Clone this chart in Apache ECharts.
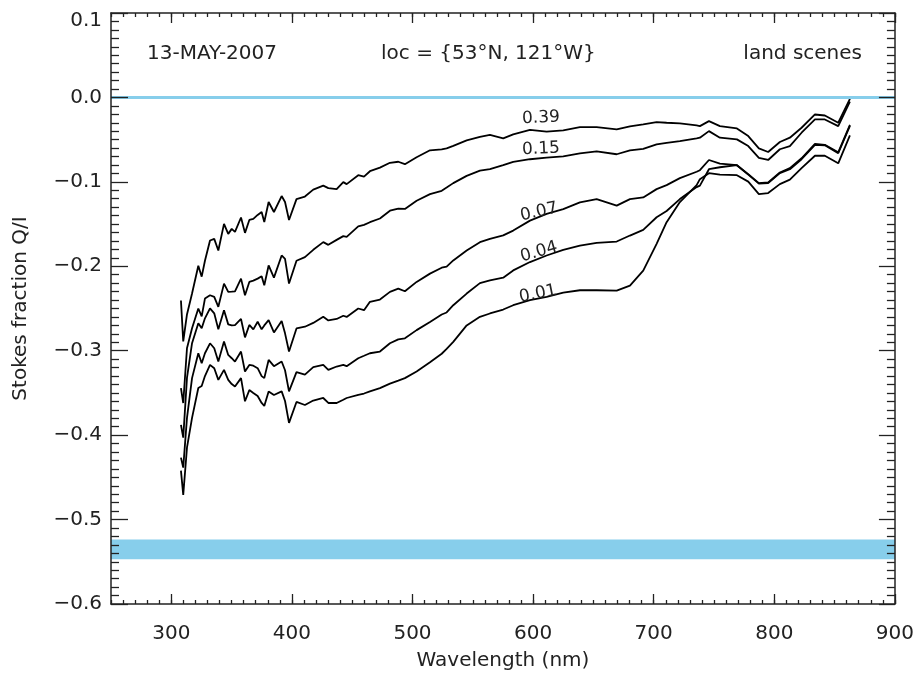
<!DOCTYPE html>
<html>
<head>
<meta charset="utf-8">
<script src="https://cdn.jsdelivr.net/npm/echarts@6/dist/echarts.min.js"></script>
<style>html,body{margin:0;padding:0;background:#fff;}#c{width:917px;height:676px;}</style>
</head>
<body>
<div id="c"></div>
<script>
// Wavelength grid (nm)
const wavelength = [308.0,309.9,313.0,317.2,322.4,325.2,327.9,332.1,335.6,339.0,343.7,347.2,350.1,352.8,357.8,361.1,364.7,368.0,371.6,374.9,377.1,380.7,385.1,391.5,394.3,397.6,403.8,410.8,417.7,426.0,430.2,437.1,442.6,445.4,455.0,459.8,464.7,473.0,481.3,488.2,493.7,503.4,514.5,524.2,528.3,533.8,544.9,555.9,564.2,575.2,583.5,597.4,611.2,625.0,638.8,652.7,669.3,680.3,691.3,702.4,710.7,721.7,735.6,738.3,745.8,754.9,769.0,778.4,787.2,794.9,804.6,812.9,822.6,833.7,841.9,853.0,862.7];

// Stokes fraction Q/I for each surface albedo
const q039 = [-0.2406,-0.2889,-0.2571,-0.2323,-0.1993,-0.2123,-0.1935,-0.1695,-0.1675,-0.1813,-0.1498,-0.1616,-0.1557,-0.1592,-0.1422,-0.1604,-0.1451,-0.1439,-0.1392,-0.1357,-0.1475,-0.1239,-0.1357,-0.1168,-0.1239,-0.1451,-0.1204,-0.1174,-0.1092,-0.1045,-0.1074,-0.1086,-0.1003,-0.1027,-0.0921,-0.0938,-0.0874,-0.0832,-0.0774,-0.0762,-0.0791,-0.0709,-0.0626,-0.0615,-0.0603,-0.0573,-0.0508,-0.0467,-0.0444,-0.0485,-0.0438,-0.0385,-0.0406,-0.0391,-0.0352,-0.0352,-0.0379,-0.0343,-0.0320,-0.0293,-0.0300,-0.0308,-0.0332,-0.0340,-0.0281,-0.0340,-0.0367,-0.0458,-0.0603,-0.0646,-0.0528,-0.0477,-0.0359,-0.0202,-0.0214,-0.0300,-0.0017];
const q015 = [-0.3443,-0.3620,-0.2971,-0.2735,-0.2500,-0.2594,-0.2382,-0.2343,-0.2362,-0.2480,-0.2205,-0.2303,-0.2300,-0.2296,-0.2146,-0.2343,-0.2185,-0.2170,-0.2146,-0.2117,-0.2225,-0.1990,-0.2134,-0.1872,-0.1911,-0.2205,-0.1934,-0.1891,-0.1805,-0.1714,-0.1746,-0.1687,-0.1643,-0.1651,-0.1528,-0.1510,-0.1478,-0.1434,-0.1342,-0.1316,-0.1321,-0.1224,-0.1145,-0.1106,-0.1068,-0.1015,-0.0929,-0.0868,-0.0850,-0.0803,-0.0764,-0.0732,-0.0712,-0.0697,-0.0662,-0.0638,-0.0673,-0.0626,-0.0609,-0.0556,-0.0538,-0.0517,-0.0485,-0.0477,-0.0399,-0.0477,-0.0497,-0.0576,-0.0715,-0.0741,-0.0614,-0.0576,-0.0418,-0.0261,-0.0261,-0.0340,-0.0049];
const q007 = [-0.3879,-0.4030,-0.3323,-0.2911,-0.2675,-0.2734,-0.2616,-0.2498,-0.2557,-0.2747,-0.2520,-0.2688,-0.2700,-0.2697,-0.2624,-0.2842,-0.2695,-0.2747,-0.2657,-0.2747,-0.2700,-0.2638,-0.2783,-0.2647,-0.2794,-0.3010,-0.2736,-0.2716,-0.2671,-0.2598,-0.2641,-0.2624,-0.2586,-0.2600,-0.2500,-0.2520,-0.2421,-0.2394,-0.2303,-0.2264,-0.2296,-0.2185,-0.2087,-0.2017,-0.2005,-0.1931,-0.1813,-0.1714,-0.1675,-0.1634,-0.1577,-0.1459,-0.1380,-0.1322,-0.1243,-0.1204,-0.1282,-0.1204,-0.1184,-0.1086,-0.1039,-0.0956,-0.0880,-0.0862,-0.0741,-0.0785,-0.0803,-0.0909,-0.1015,-0.1007,-0.0889,-0.0838,-0.0721,-0.0550,-0.0561,-0.0650,-0.0326];
const q004 = [-0.4266,-0.4385,-0.3796,-0.3325,-0.3030,-0.3148,-0.3030,-0.2912,-0.2971,-0.3128,-0.2892,-0.3050,-0.3089,-0.3128,-0.3010,-0.3246,-0.3168,-0.3178,-0.3207,-0.3301,-0.3325,-0.3109,-0.3183,-0.3128,-0.3231,-0.3482,-0.3254,-0.3283,-0.3195,-0.3168,-0.3227,-0.3187,-0.3168,-0.3183,-0.3089,-0.3060,-0.3030,-0.3010,-0.2912,-0.2865,-0.2853,-0.2756,-0.2659,-0.2571,-0.2547,-0.2461,-0.2323,-0.2199,-0.2166,-0.2135,-0.2049,-0.1950,-0.1872,-0.1805,-0.1754,-0.1722,-0.1707,-0.1636,-0.1569,-0.1419,-0.1345,-0.1204,-0.1062,-0.1044,-0.0850,-0.0827,-0.0803,-0.0915,-0.1021,-0.1015,-0.0897,-0.0850,-0.0732,-0.0561,-0.0567,-0.0661,-0.0337];
const q001 = [-0.4421,-0.4707,-0.4149,-0.3796,-0.3442,-0.3419,-0.3300,-0.3168,-0.3207,-0.3345,-0.3227,-0.3345,-0.3395,-0.3423,-0.3325,-0.3599,-0.3466,-0.3501,-0.3537,-0.3619,-0.3654,-0.3482,-0.3525,-0.3482,-0.3596,-0.3855,-0.3607,-0.3643,-0.3590,-0.3560,-0.3619,-0.3619,-0.3580,-0.3560,-0.3522,-0.3507,-0.3481,-0.3443,-0.3390,-0.3354,-0.3325,-0.3246,-0.3137,-0.3036,-0.2977,-0.2895,-0.2700,-0.2598,-0.2559,-0.2512,-0.2461,-0.2402,-0.2362,-0.2311,-0.2284,-0.2284,-0.2288,-0.2229,-0.2052,-0.1734,-0.1478,-0.1239,-0.1039,-0.0968,-0.0897,-0.0915,-0.0921,-0.0997,-0.1145,-0.1133,-0.1027,-0.0974,-0.0838,-0.0691,-0.0691,-0.0780,-0.0449];

const seriesNames = ['0.39','0.15','0.07','0.04','0.01'];
const seriesValues = [q039, q015, q007, q004, q001];

// Reference level and shaded band
const zeroLevel = 0.0;
const bandRange = [-0.5235, -0.547];

// Axis ranges and tick labels
const xRange = [250, 900];
const xMajorTicks = [300, 400, 500, 600, 700, 800, 900];
const xMinorStep = 10;
const yRange = [-0.6, 0.1];
const yStep = 0.1;

const FONT = 'DejaVu Sans';
const TXT = '#222';
const AX = '#222';

function fmtY(v){
  if (Math.abs(v) < 1e-9) return '0.0';
  const s = v.toFixed(1).replace('-', '\u2212');
  if (Math.abs(v - yRange[1]) < 1e-9) return '{t|' + s + '}';
  return s;
}

const chart = echarts.init(document.getElementById('c'), null, {renderer: 'canvas'});

const series = seriesValues.map((vals, k) => ({
  name: seriesNames[k],
  type: 'line',
  xAxisIndex: 0, yAxisIndex: 0,
  data: wavelength.map((w, i) => [w, vals[i]]),
  symbol: 'none',
  lineStyle: {color: '#000', width: 1.8},
  z: 3,
  silent: true,
  animation: false
}));

series.push({
  name: 'ref',
  type: 'line',
  xAxisIndex: 0, yAxisIndex: 0,
  data: [],
  silent: true,
  animation: false,
  markLine: {
    silent: true,
    symbol: ['none','none'],
    label: {show: false},
    lineStyle: {color: '#87CEEB', width: 3, type: 'solid'},
    data: [{yAxis: zeroLevel}]
  },
  markArea: {
    silent: true,
    itemStyle: {color: '#87CEEB', opacity: 1},
    data: [[{yAxis: bandRange[0]}, {yAxis: bandRange[1]}]]
  }
});

const labelFont = {color: TXT, fontFamily: FONT, fontSize: 20};

// major x axes (custom tick values) and minor x axes (every 10 nm)
function xMajor(pos, showLabel){
  return {
    type: 'value', position: pos, min: xRange[0], max: xRange[1],
    z: 5,
    axisLine: {show: true, onZero: false, lineStyle: {color: AX, width: 1.5}},
    axisTick: {show: true, inside: true, length: 10, customValues: xMajorTicks, lineStyle: {color: AX, width: 1.3}},
    minorTick: {show: false},
    splitLine: {show: false},
    axisLabel: Object.assign({show: showLabel, margin: 20, customValues: xMajorTicks}, labelFont),
    name: showLabel ? 'Wavelength (nm)' : '',
    nameLocation: 'middle', nameGap: 47,
    nameTextStyle: labelFont
  };
}
function xMinor(pos){
  return {
    type: 'value', position: pos, min: xRange[0], max: xRange[1], interval: xMinorStep,
    z: 5,
    axisLine: {show: false, onZero: false},
    axisTick: {show: true, inside: true, length: 4, lineStyle: {color: AX, width: 1.3}},
    splitLine: {show: false},
    axisLabel: {show: false}
  };
}
function yAxisCfg(pos, showLabel){
  return {
    type: 'value', position: pos,
    min: yRange[0], max: yRange[1], interval: yStep,
    z: 5,
    axisLine: {show: true, onZero: false, lineStyle: {color: AX, width: 1.5}},
    axisTick: {show: true, inside: true, length: pos === 'left' ? 17 : 16, lineStyle: {color: AX, width: 1.3}},
    minorTick: {show: true, splitNumber: 10, length: 8, lineStyle: {color: AX, width: 1.3}},
    splitLine: {show: false},
    axisLabel: Object.assign({show: showLabel, margin: 9, formatter: fmtY,
      rich: {t: {color: TXT, fontFamily: FONT, fontSize: 20, padding: [16, 0, 0, 0]}}}, labelFont),
    name: showLabel ? 'Stokes fraction Q/I' : '',
    nameLocation: 'middle', nameGap: 80,
    nameTextStyle: labelFont
  };
}

function txt(x, y, s, rot, size, align){
  return {
    type: 'text', x: x, y: y, rotation: rot || 0, z: 10, silent: true,
    style: {text: s, fill: TXT, font: (size || 18) + 'px "' + FONT + '"',
            align: align || 'center', verticalAlign: 'middle',
            textAlign: align || 'center', textVerticalAlign: 'middle'}
  };
}

chart.setOption({
  backgroundColor: '#fff',
  animation: false,
  grid: {left: 111, right: 22, top: 13, bottom: 69, containLabel: false},
  xAxis: [xMajor('bottom', true), xMajor('top', false), xMinor('bottom'), xMinor('top')],
  yAxis: [yAxisCfg('left', true), yAxisCfg('right', false)],
  series: series,
  graphic: [
    txt(147, 54, '13-MAY-2007', 0, 20, 'left'),
    txt(381, 54, 'loc = {53\u00B0N, 121\u00B0W}', 0, 20, 'left'),
    txt(862, 54, 'land scenes', 0, 20, 'right'),
    txt(541, 118, seriesNames[0], 0.04, 17),
    txt(541, 149, seriesNames[1], 0.04, 17),
    txt(539, 212, seriesNames[2], 0.22, 17),
    txt(539, 252, seriesNames[3], 0.28, 17),
    txt(538, 294, seriesNames[4], 0.2, 17)
  ]
});
</script>
</body>
</html>
